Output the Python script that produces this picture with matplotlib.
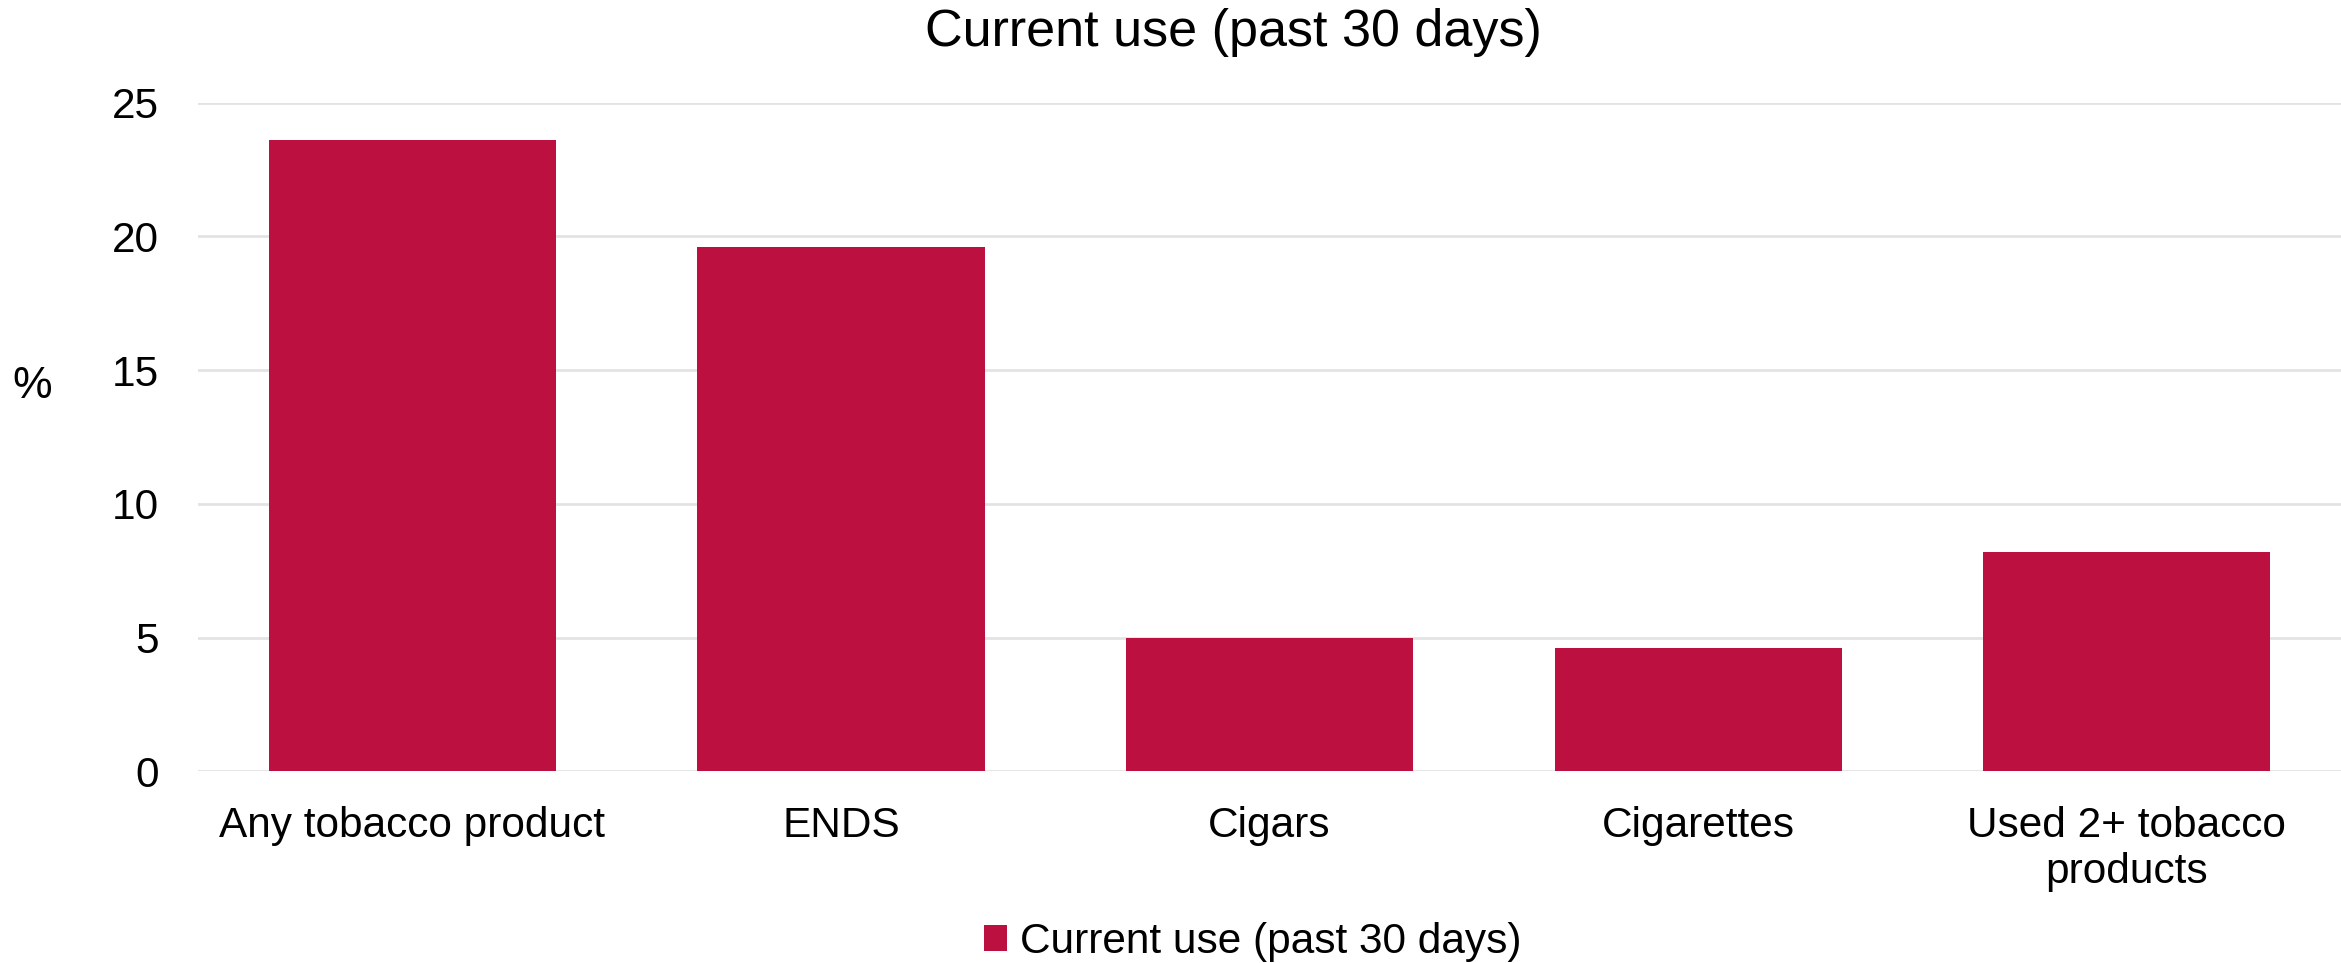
import numpy as np
import matplotlib
matplotlib.use("Agg")
import matplotlib.pyplot as plt

plt.rcParams['font.family'] = ['Liberation Sans', 'DejaVu Sans']

#------------------------------------------------------------------------------
# data

categories = ['Any tobacco product', 'ENDS', 'Cigars', 'Cigarettes',
              'Used 2+ tobacco\nproducts']
values = [23.6, 19.6, 5.0, 4.6, 8.2]
series = 'Current use (past 30 days)'
yticks = [0, 5, 10, 15, 20, 25]

bar_color = '#BC1040'
grid_color = '#E3E3E3'

#------------------------------------------------------------------------------

fig = plt.figure(figsize=[23.41, 9.63], dpi=100)
ax = fig.add_axes([0.0846, 0.1989, 0.9154, 0.6945])

x = np.arange(len(categories))
ax.bar(x, values, width=0.67, color=bar_color, label=series, zorder=3)

ax.set_xlim(-0.5, len(categories) - 0.5)
ax.set_ylim(0, 25)
ax.set_yticks(yticks)
ax.set_xticks(x)
ax.set_xticklabels(categories, fontsize=30.5, linespacing=1.2)
ax.tick_params(axis='y', labelsize=30.5, length=0, pad=28)
ax.tick_params(axis='x', length=0, pad=25)

ax.grid(axis='y', color=grid_color, linewidth=2, zorder=0)
for s in ax.spines.values():
    s.set_visible(False)

ax.set_ylabel('%', fontsize=32, rotation=0, va='center', ha='center')
ax.yaxis.set_label_coords(-0.0775, 0.575)

fig.text(0.527, 0.966, series, fontsize=37.5, ha='center', va='center')

fig.legend(loc='center', bbox_to_anchor=(0.535, 0.022), frameon=False,
           fontsize=30.5, handlelength=0.55, handleheight=0.55, handletextpad=0.3)

#------------------------------------------------------------------------------

fig.savefig('out.png', dpi=100)
